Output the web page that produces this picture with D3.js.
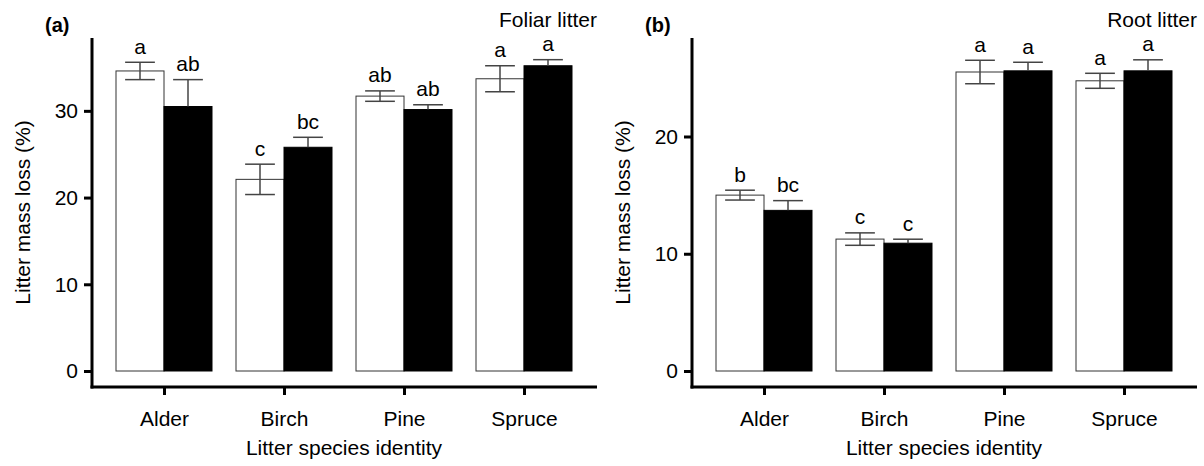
<!DOCTYPE html>
<html>
<head>
<meta charset="utf-8">
<script src="https://cdn.jsdelivr.net/npm/d3@7"></script>
<style>
  body { margin: 0; background: #fff; }
  svg { display: block; font-family: "Liberation Sans", Arial, sans-serif; }
</style>
</head>
<body>
<svg id="chart" width="1204" height="466"></svg>
<script>
// species on the x axis
const categories = ["Alder", "Birch", "Pine", "Spruce"];

// foliar litter (panel a)
const foliarOpen = [34.6, 22.1, 31.7, 33.7];
const foliarOpenSE = [1.0, 1.75, 0.6, 1.5];
const foliarOpenLetters = ["a", "c", "ab", "a"];
const foliarFilled = [30.5, 25.8, 30.15, 35.2];
const foliarFilledSE = [3.1, 1.15, 0.55, 0.7];
const foliarFilledLetters = ["ab", "bc", "ab", "a"];
const foliarTicks = [0, 10, 20, 30];

// root litter (panel b)
const rootOpen = [15.0, 11.25, 25.5, 24.75];
const rootOpenSE = [0.42, 0.53, 1.0, 0.64];
const rootOpenLetters = ["b", "c", "a", "a"];
const rootFilled = [13.7, 10.9, 25.6, 25.6];
const rootFilledSE = [0.83, 0.34, 0.73, 0.94];
const rootFilledLetters = ["bc", "c", "a", "a"];
const rootTicks = [0, 10, 20];

const svg = d3.select("#chart");

function drawPanel(ox, tag, title, yMax, ticks, open, openSE, openLet, filled, filledSE, filledLet) {
  let g = svg.append("g").attr("transform", "translate(" + ox + ",0)");
  let left = 92, right = 597, top = 38, zeroY = 371, axisY = 387;

  let x = d3.scalePoint().domain(categories).range([left, right - 1]).padding(0.6);
  let barW = x.step() * 0.4;
  let sub = d3.scaleBand().domain(["open", "filled"]).range([-barW, barW]);
  let y = d3.scaleLinear().domain([0, yMax]).range([zeroY, top]);

  let rows = categories.map((c, i) => [
    { cat: c, key: "open", v: open[i], se: openSE[i], lab: openLet[i] },
    { cat: c, key: "filled", v: filled[i], se: filledSE[i], lab: filledLet[i] }
  ]).flat();

  // bars
  g.selectAll("rect.bar")
    .data(rows)
    .enter()
    .append("rect")
    .attr("class", "bar")
    .attr("x", d => x(d.cat) + sub(d.key))
    .attr("y", d => y(d.v))
    .attr("width", sub.bandwidth())
    .attr("height", d => y(0) - y(d.v))
    .attr("fill", d => (d.key === "open" ? "#fff" : "#000"))
    .attr("stroke", d => (d.key === "open" ? "#333" : "#000"))
    .attr("stroke-width", 1);

  // error bars (filled bars only show the upper half)
  let capW = sub.bandwidth() * 0.62;
  let eb = g.selectAll("g.err").data(rows).enter().append("g").attr("class", "err")
    .attr("stroke", "#444").attr("stroke-width", 1.5);
  eb.append("line")
    .attr("x1", d => x(d.cat) + sub(d.key) + sub.bandwidth() / 2)
    .attr("x2", d => x(d.cat) + sub(d.key) + sub.bandwidth() / 2)
    .attr("y1", d => y(d.key === "open" ? d.v - d.se : d.v))
    .attr("y2", d => y(d.v + d.se));
  eb.append("line")
    .attr("x1", d => x(d.cat) + sub(d.key) + sub.bandwidth() / 2 - capW / 2)
    .attr("x2", d => x(d.cat) + sub(d.key) + sub.bandwidth() / 2 + capW / 2)
    .attr("y1", d => y(d.v + d.se))
    .attr("y2", d => y(d.v + d.se));
  eb.filter(d => d.key === "open").append("line")
    .attr("x1", d => x(d.cat) + sub(d.key) + sub.bandwidth() / 2 - capW / 2)
    .attr("x2", d => x(d.cat) + sub(d.key) + sub.bandwidth() / 2 + capW / 2)
    .attr("y1", d => y(d.v - d.se))
    .attr("y2", d => y(d.v - d.se));

  // significance letters
  g.selectAll("text.sig")
    .data(rows)
    .enter()
    .append("text")
    .attr("class", "sig")
    .attr("x", d => x(d.cat) + sub(d.key) + sub.bandwidth() / 2)
    .attr("y", d => y(d.v + d.se) - 8.5)
    .attr("text-anchor", "middle")
    .attr("font-size", 21)
    .text(d => d.lab);

  // y axis (offset from x axis)
  let yAxis = g.append("g").attr("transform", "translate(" + left + ",0)")
    .call(d3.axisLeft(y).tickValues(ticks).tickSize(8).tickPadding(6).tickSizeOuter(0));
  yAxis.select(".domain").remove();
  yAxis.selectAll(".tick line").attr("stroke", "#000").attr("stroke-width", 3);
  yAxis.selectAll(".tick text").attr("font-size", 21).attr("fill", "#000")
    .attr("font-family", "Liberation Sans, Arial, sans-serif");
  g.append("line").attr("x1", left).attr("x2", left).attr("y1", top).attr("y2", axisY + 1.5)
    .attr("stroke", "#000").attr("stroke-width", 3);

  // x axis
  let xAxis = g.append("g").attr("transform", "translate(0," + axisY + ")")
    .call(d3.axisBottom(x).tickSize(8).tickPadding(16));
  xAxis.select(".domain").remove();
  xAxis.selectAll(".tick line").attr("stroke", "#000").attr("stroke-width", 3);
  xAxis.selectAll(".tick text").attr("font-size", 21).attr("fill", "#000")
    .attr("font-family", "Liberation Sans, Arial, sans-serif");
  g.append("line").attr("x1", left - 1.5).attr("x2", right).attr("y1", axisY).attr("y2", axisY)
    .attr("stroke", "#000").attr("stroke-width", 3);

  // axis titles
  g.append("text")
    .attr("transform", "translate(30," + (top + axisY) / 2 + ") rotate(-90)")
    .attr("text-anchor", "middle")
    .attr("font-size", 21)
    .text("Litter mass loss (%)");
  let xs = categories.map(c => x(c));
  g.append("text")
    .attr("x", (xs[0] + xs[xs.length - 1]) / 2)
    .attr("y", 455)
    .attr("text-anchor", "middle")
    .attr("font-size", 21)
    .text("Litter species identity");

  // panel tag and title
  g.append("text").attr("x", 45).attr("y", 32).attr("font-size", 20).attr("font-weight", "bold").text(tag);
  g.append("text").attr("x", right).attr("y", 27).attr("text-anchor", "end").attr("font-size", 21).text(title);
}

drawPanel(0, "(a)", "Foliar litter", 38.4, foliarTicks,
  foliarOpen, foliarOpenSE, foliarOpenLetters, foliarFilled, foliarFilledSE, foliarFilledLetters);
drawPanel(600, "(b)", "Root litter", 28.4, rootTicks,
  rootOpen, rootOpenSE, rootOpenLetters, rootFilled, rootFilledSE, rootFilledLetters);
</script>
</body>
</html>
